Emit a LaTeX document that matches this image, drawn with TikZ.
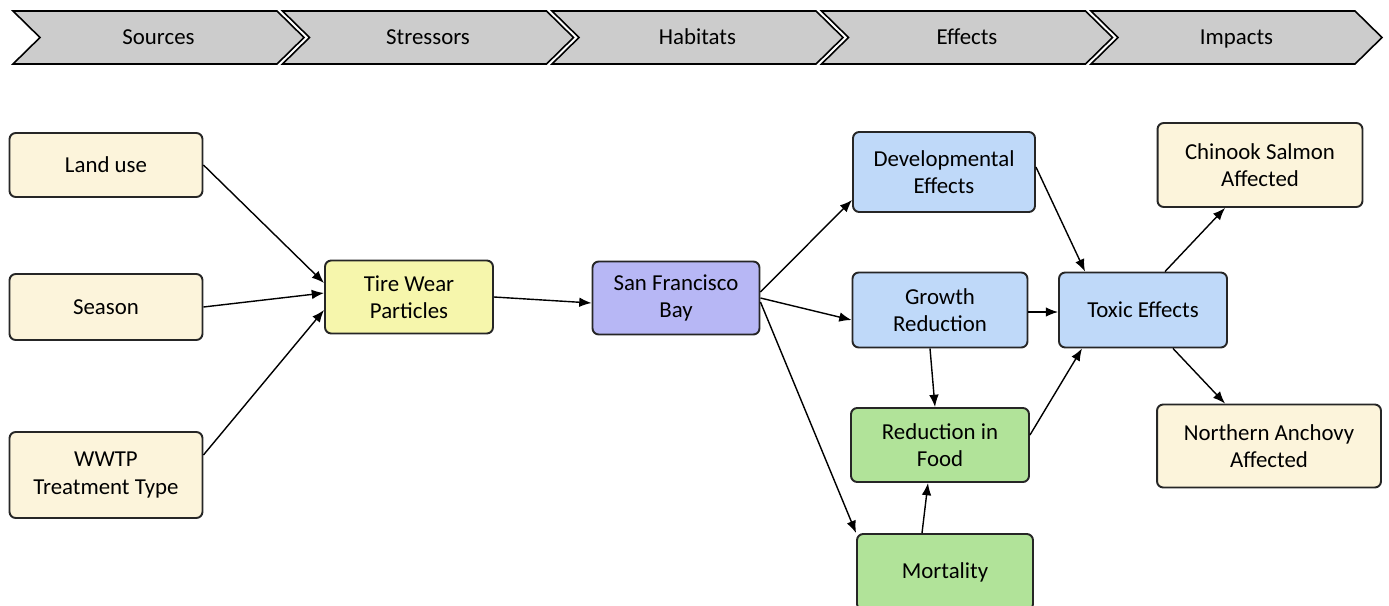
\documentclass[tikz,border=0pt]{standalone}
\usepackage{fontspec}
\setmainfont{Carlito}
\usetikzlibrary{arrows.meta}

\definecolor{srcfill}{RGB}{252,244,219}
\definecolor{tirefill}{RGB}{246,246,172}
\definecolor{bayfill}{RGB}{183,183,245}
\definecolor{effill}{RGB}{191,217,249}
\definecolor{foodfill}{RGB}{177,227,153}
\definecolor{stagefill}{RGB}{204,204,204}

\tikzset{
    box/.style={
        draw=black!85,
        line width=1.1pt,
        rounded corners=3.5pt,
        align=center,
        inner sep=0pt,
        font=\fontsize{13}{15.5}\selectfont
    },
    link/.style={-{Latex[length=7pt,width=5.5pt]}, line width=0.8pt},
    stagetext/.style={anchor=base, font=\fontsize{13}{15.5}\selectfont}
}

\begin{document}
\begin{tikzpicture}[x=0.02cm, y=-0.02cm]
    \clip (0,0) rectangle (1389,605);

    \foreach[count=\n, evaluate=\n as \L using 13+269.5*(\n-1)] \s in {Sources, Stressors, Habitats, Effects, Impacts} {
        \draw[line width=0.9pt, fill=stagefill]
            (\L,11) -- (\L+264,11) -- (\L+291,37.5) -- (\L+264,64) -- (\L,64) -- (\L+27,37.5) -- cycle;
        \node[stagetext] (stage\n) at (\L+145.5,44.5) {\s};
    }

    \node[box, fill=srcfill, minimum width=3.86cm, minimum height=1.28cm] (land) at (106,165) {Land use};
    \node[box, fill=srcfill, minimum width=3.86cm, minimum height=1.32cm] (season) at (106,307) {Season};
    \node[box, fill=srcfill, minimum width=3.86cm, minimum height=1.72cm] (wwtp) at (106,475) {WWTP\\Treatment Type};

    \node[box, fill=tirefill, minimum width=3.36cm, minimum height=1.46cm] (tire) at (409,297) {Tire Wear\\Particles};
    \node[box, fill=bayfill, minimum width=3.34cm, minimum height=1.46cm] (bay) at (676,298) {San Francisco\\Bay};

    \node[box, fill=effill, minimum width=3.64cm, minimum height=1.60cm] (dev) at (944,172) {Developmental\\Effects};
    \node[box, fill=effill, minimum width=3.50cm, minimum height=1.50cm] (growth) at (940,310) {Growth\\Reduction};
    \node[box, fill=foodfill, minimum width=3.56cm, minimum height=1.48cm] (food) at (940,445) {Reduction in\\Food};
    \node[box, fill=foodfill, minimum width=3.52cm, minimum height=1.52cm] (mort) at (945,572) {Mortality};
    \node[box, fill=effill, minimum width=3.36cm, minimum height=1.50cm] (toxic) at (1143,310) {Toxic Effects};

    \node[box, fill=srcfill, minimum width=4.10cm, minimum height=1.68cm] (salmon) at (1260,165) {Chinook Salmon\\Affected};
    \node[box, fill=srcfill, minimum width=4.48cm, minimum height=1.66cm] (anchovy) at (1269,446) {Northern Anchovy\\Affected};

    \draw[link] (land.east) -- ([yshift=0.28cm]tire.west);
    \draw[link] (season.east) -- ([yshift=0.08cm]tire.west);
    \draw[link] ([yshift=0.4cm]wwtp.east) -- ([yshift=-0.26cm]tire.west);
    \draw[link] (tire.east) -- ([yshift=-0.1cm]bay.west);

    \draw[link] ([yshift=0.12cm]bay.east) -- ([yshift=-0.56cm]dev.west);
    \draw[link] (bay.east) -- ([yshift=-0.2cm]growth.west);
    \draw[link] ([yshift=-0.08cm]bay.east) -- (mort.north west);

    \draw[link] ([yshift=0.1cm]dev.east) -- ([xshift=-1.16cm]toxic.north);
    \draw[link] ([yshift=-0.04cm]growth.east) -- ([yshift=-0.04cm]toxic.west);
    \draw[link] ([xshift=-0.2cm]growth.south) -- ([xshift=-0.1cm]food.north);
    \draw[link] ([yshift=0.2cm]food.east) -- ([xshift=-1.22cm]toxic.south);
    \draw[link] ([xshift=-0.46cm]mort.north) -- ([xshift=-0.24cm]food.south);

    \draw[link] ([xshift=0.44cm]toxic.north) -- ([xshift=-0.7cm]salmon.south);
    \draw[link] ([xshift=0.6cm]toxic.south) -- ([xshift=-0.88cm]anchovy.north);
\end{tikzpicture}
\end{document}
